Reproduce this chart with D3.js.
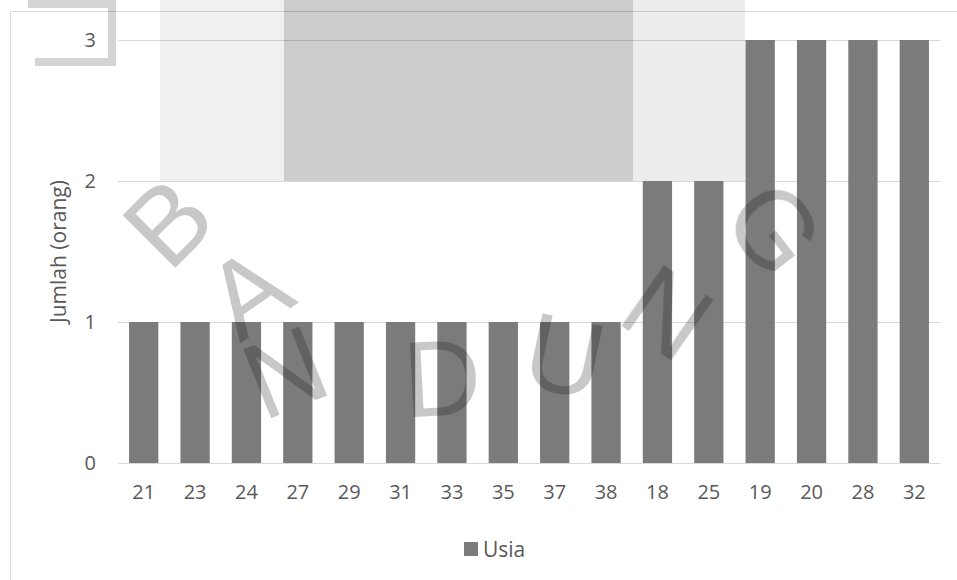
<!DOCTYPE html>
<html>
<head>
<meta charset="utf-8">
<script src="https://cdn.jsdelivr.net/npm/d3@7"></script>
<style>
  body { margin: 0; background: #fff; }
  svg { display: block; font-family: "Open Sans", sans-serif; }
  .wm { mix-blend-mode: multiply; }
</style>
</head>
<body>
<div id="chart"></div>
<script>
// usia responden dan jumlahnya
const ages = ['21','23','24','27','29','31','33','35','37','38','18','25','19','20','28','32'];
const counts = [1,1,1,1,1,1,1,1,1,1,2,2,3,3,3,3];
const yTicks = [0,1,2,3];
const seriesName = 'Usia';
const yTitle = 'Jumlah (orang)';

// watermark letters from the scan (x, y, angle)
const wmLetters = ['B','A','N','D','U','N','G'];
const wmPos = [[168,222,-45],[248,292,-35],[285,372,-22],[442,378,-3],[565,356,12],[668,312,35],[775,228,52]];

const width = 957, height = 580;
const margin = {top: 40, right: 17, bottom: 117, left: 118};

const svg = d3.select('#chart').append('svg')
    .attr('width', width)
    .attr('height', height);

// chart frame
svg.append('rect')
    .attr('x', 10.5).attr('y', 11.5)
    .attr('width', 960).attr('height', 600)
    .attr('fill', '#fff')
    .attr('stroke', '#d9d9d9');

const x = d3.scaleBand()
    .domain(ages)
    .range([margin.left, width - margin.right])
    .paddingInner(0.43)
    .paddingOuter(0.215);

const y = d3.scaleLinear()
    .domain([0, 3])
    .range([height - margin.bottom, margin.top]);

// gridlines
svg.append('g')
    .selectAll('line')
    .data(yTicks)
    .join('line')
    .attr('x1', margin.left)
    .attr('x2', width - margin.right)
    .attr('y1', d => Math.round(y(d)) + 0.5)
    .attr('y2', d => Math.round(y(d)) + 0.5)
    .attr('stroke', '#d9d9d9')
    .attr('stroke-width', 1.2);

// bars
svg.append('g')
    .selectAll('rect')
    .data(counts)
    .join('rect')
    .attr('x', (d, i) => x(ages[i]))
    .attr('y', d => y(d))
    .attr('width', x.bandwidth())
    .attr('height', d => y(0) - y(d))
    .attr('fill', '#7b7b7b');

// y axis labels
const yAxis = svg.append('g')
    .attr('transform', `translate(${margin.left - 22},0)`)
    .call(d3.axisLeft(y).tickValues(yTicks).tickFormat(d3.format('d')).tickSize(0).tickPadding(0));
yAxis.select('.domain').remove();
yAxis.selectAll('text')
    .attr('font-size', 20)
    .attr('font-family', '"Open Sans", sans-serif')
    .attr('fill', '#595959');

// x axis labels
const xAxis = svg.append('g')
    .attr('transform', `translate(0,${y(0) + 22})`)
    .call(d3.axisBottom(x).tickSize(0).tickPadding(0));
xAxis.select('.domain').remove();
xAxis.selectAll('text')
    .attr('font-size', 20)
    .attr('font-family', '"Open Sans", sans-serif')
    .attr('fill', '#595959');

// y title
svg.append('text')
    .attr('transform', `translate(66,${(y(0) + y(3)) / 2}) rotate(-90)`)
    .attr('text-anchor', 'middle')
    .attr('font-size', 21)
    .attr('fill', '#595959')
    .text(yTitle);

// legend
const legend = svg.append('g').attr('transform', 'translate(464,542)');
legend.append('rect')
    .attr('width', 14).attr('height', 14)
    .attr('fill', '#7b7b7b');
legend.append('text')
    .attr('x', 19).attr('y', 15)
    .attr('font-size', 21)
    .attr('fill', '#595959')
    .text(seriesName);

// watermark overlay
const wm = svg.append('g').attr('class', 'wm');
wm.append('rect')
    .attr('x', 284).attr('y', 0)
    .attr('width', 349).attr('height', 181)
    .attr('fill', '#cdcdcd');
wm.append('rect')
    .attr('x', 160).attr('y', 0)
    .attr('width', 124).attr('height', 181)
    .attr('fill', '#f0f0f0');
wm.append('rect')
    .attr('x', 633).attr('y', 0)
    .attr('width', 112).attr('height', 181)
    .attr('fill', '#ededed');
// "U" cut off at top-left
wm.append('path')
    .attr('d', 'M28,4 H112 V62 H35')
    .attr('fill', 'none')
    .attr('stroke', '#d4d4d4')
    .attr('stroke-width', 8);
wm.selectAll('text')
    .data(wmLetters)
    .join('text')
    .attr('transform', (d, i) => `translate(${wmPos[i][0]},${wmPos[i][1]}) rotate(${wmPos[i][2]})`)
    .attr('text-anchor', 'middle')
    .attr('dominant-baseline', 'central')
    .attr('font-size', 108)
    .attr('font-family', '"Liberation Sans", sans-serif')
    .attr('fill', '#c8c8c8')
    .text(d => d);
</script>
</body>
</html>
